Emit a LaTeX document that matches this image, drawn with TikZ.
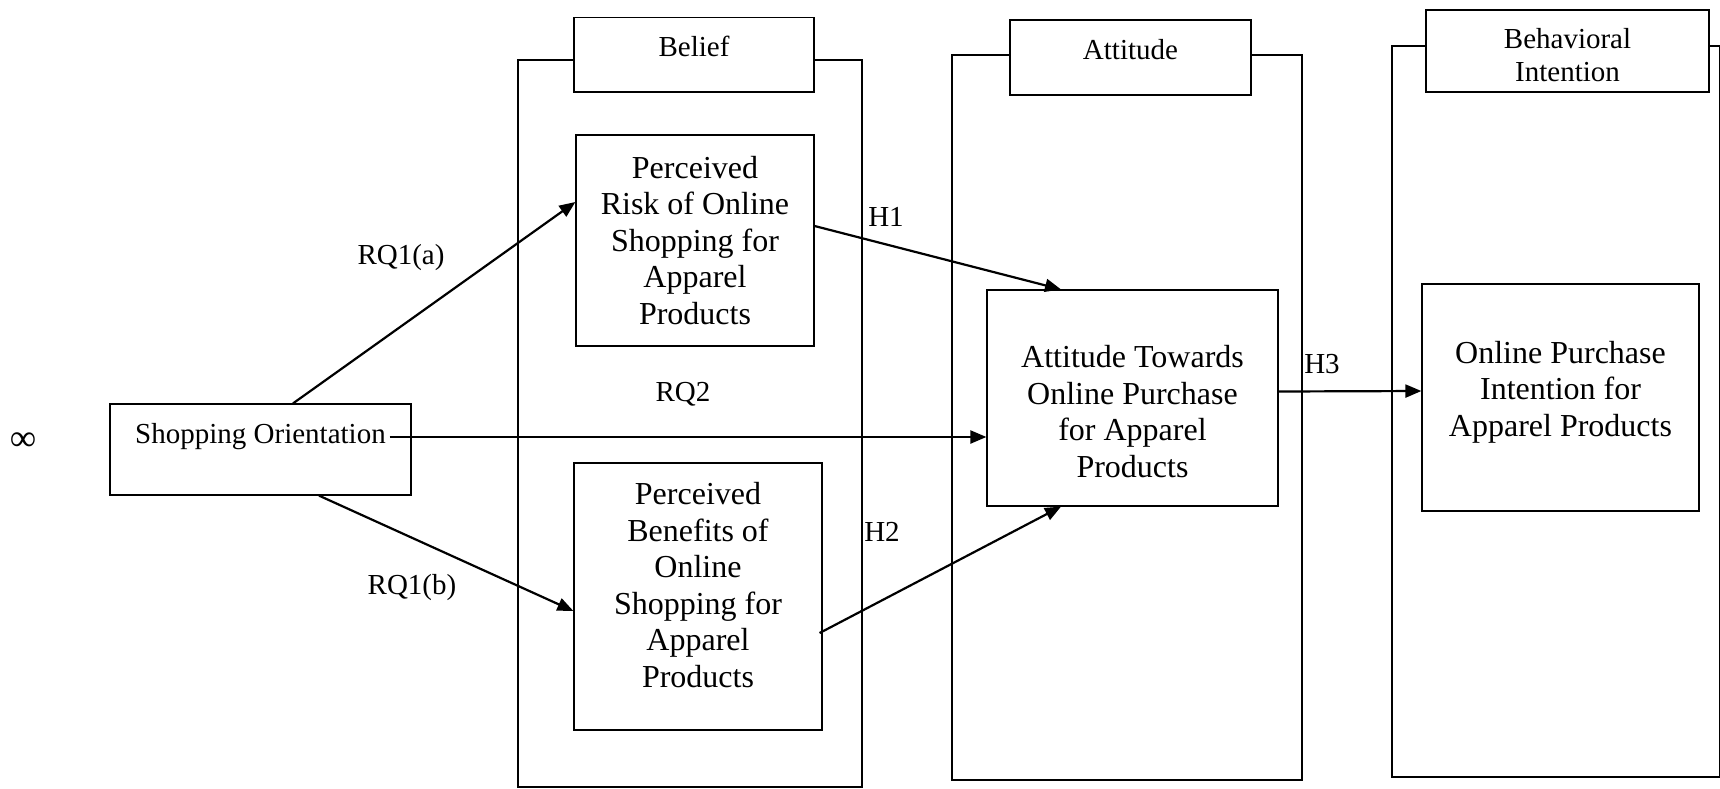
\documentclass[tikz,border=0pt]{standalone}
\usepackage{fontspec}
\setmainfont{Liberation Serif}
\usetikzlibrary{arrows.meta}

\begin{document}
\begin{tikzpicture}[x=1pt, y=-1pt,
    box/.style={draw, line width=1.2pt, align=center, inner sep=0pt, font=\fontsize{32}{36.5}\selectfont},
    tag/.style={draw, fill=white, line width=1.2pt, align=center, inner sep=0pt, font=\fontsize{29}{33}\selectfont},
    frame/.style={line width=1.2pt},
    arr/.style={line width=2.2pt, -{Triangle[length=16pt,width=13pt]}},
    lbl/.style={font=\fontsize{29}{33}\selectfont}]
        \clip (0,0) rectangle (1720,788);

        \node[lbl, font=\fontsize{37}{40}\selectfont] (inf) at (23,442) {∞};

        % Belief
        \draw[frame] (518,60) rectangle (862,787);
        \node[tag, minimum width=240, minimum height=74.5, text depth=17pt] (belief) at (694,54.75) {Belief};

        % Attitude
        \draw[frame] (952,55) rectangle (1302,780);
        \node[tag, minimum width=241, minimum height=75, text depth=17pt] (attitude) at (1130.5,57.5) {Attitude};

        % Behavioral Intention
        \draw[frame] (1392,46) rectangle (1719.5,777);
        \node[tag, minimum width=283, minimum height=82, text height=60pt, text depth=0pt] (intent) at (1567.5,51) {Behavioral\\Intention};

        % Блоки
        \node[box, lbl, minimum width=301, minimum height=91, text height=20pt, text depth=32pt] (so) at (260.5,449.5) {Shopping Orientation};
        \node[box, minimum width=238, minimum height=211] (pr) at (695,240.5) {Perceived\\Risk of Online\\Shopping for\\Apparel\\Products};
        \node[box, minimum width=248, minimum height=267, text height=204.5pt, text depth=23pt] (pb) at (698,596.5) {Perceived\\Benefits of\\Online\\Shopping for\\Apparel\\Products};
        \node[box, minimum width=291, minimum height=216, text height=158.5pt, text depth=0pt] (at) at (1132.5,398) {Attitude Towards\\Online Purchase\\for Apparel\\Products};
        \node[box, minimum width=277, minimum height=227, text height=95pt, text depth=18pt] (opi) at (1560.5,397.5) {Online Purchase\\Intention for\\Apparel Products};

        % Стрелки
        \draw[arr] ([xshift=32.5pt]so.north) -- ([yshift=38.5pt]pr.west);
        \draw[arr] ([xshift=58.5pt]so.south) -- ([yshift=-14.5pt]pb.west);
        \draw[arr] ([xshift=-22pt,yshift=12.5pt]so.east) -- ([yshift=-39pt]at.west);
        \draw[arr] ([yshift=14.5pt]pr.east) -- ([xshift=-71.5pt]at.north);
        \draw[arr] ([xshift=-3pt,yshift=-36.5pt]pb.east) -- ([xshift=-71.5pt]at.south);
        \draw[arr] ([yshift=6.5pt]at.east) -- ([yshift=6.5pt]opi.west);

        % Подписи
        \node[lbl] (rq1a) at (401,258) {RQ1(a)};
        \node[lbl] (rq1b) at (412,588) {RQ1(b)};
        \node[lbl] (rq2) at (683,394) {RQ2};
        \node[lbl] (h1) at (886,217) {H1};
        \node[lbl] (h2) at (882,532) {H2};
        \node[lbl] (h3) at (1322,364) {H3};
    \end{tikzpicture}
\end{document}
